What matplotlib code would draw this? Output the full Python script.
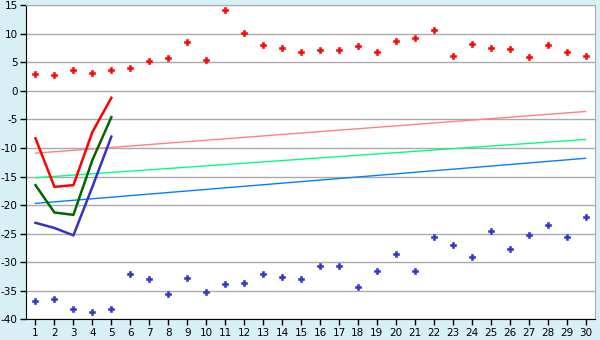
import numpy as np
import matplotlib
matplotlib.use('Agg')
import matplotlib.pyplot as plt

plt.rcParams['axes.unicode_minus'] = False

categories = list(range(1, 31))

red_points = [2.9, 2.8, 3.6, 3.1, 3.6, 4.1, 5.2, 5.7, 8.5, 5.5,
              14.1, 10.1, 8.0, 7.6, 6.9, 7.1, 7.1, 7.8, 6.9, 8.7,
              9.2, 10.6, 6.1, 8.3, 7.6, 7.3, 5.9, 8.0, 6.9, 6.2]
blue_points = [-36.8, -36.5, -38.2, -38.8, -38.2, -32.1, -33.0, -35.6, -32.8, -35.3,
               -33.9, -33.7, -32.1, -32.6, -33.0, -30.7, -30.7, -34.4, -31.6, -28.6,
               -31.6, -25.6, -26.9, -29.1, -24.6, -27.6, -25.3, -23.4, -25.6, -22.1]

line_cats = [1, 2, 3, 4, 5]
red_line = [-8.3, -16.8, -16.5, -7.2, -1.2]
green_line = [-16.5, -21.3, -21.7, -12.1, -4.6]
blue_line = [-23.1, -24.0, -25.3, -16.8, -8.0]

trend_cats = [1, 30]
pink_trend = [-10.9, -3.6]
mint_trend = [-15.2, -8.5]
sky_trend = [-19.7, -11.8]

bg = '#d9eff6'
fig = plt.figure(figsize=(6, 3.4), dpi=100, facecolor=bg)
ax = fig.add_axes([26 / 600, 20.7 / 340, 569 / 600, 314 / 340])
ax.set_facecolor('white')

ax.plot(trend_cats, pink_trend, color='#ff8080', lw=1)
ax.plot(trend_cats, mint_trend, color='#00ff80', lw=1)
ax.plot(trend_cats, sky_trend, color='#0080ff', lw=1)

ax.plot(line_cats, red_line, color='#ff0000', lw=1.8)
ax.plot(line_cats, green_line, color='#006600', lw=1.8)
ax.plot(line_cats, blue_line, color='#3333cc', lw=1.8)

ax.plot(categories, red_points, ls='none', marker='P', ms=5, color='#ff0000', mew=0.4)
ax.plot(categories, blue_points, ls='none', marker='P', ms=5, color='#3333cc', mew=0.4)

ax.set_xlim(0.5, 30.5)
ax.set_ylim(-40, 15)
ax.set_xticks(categories)
ax.set_yticks(np.arange(-40, 16, 5))
ax.yaxis.grid(True, color='#aaaaaa', lw=1)
ax.set_axisbelow(True)

ax.tick_params(axis='both', labelsize=7.5, direction='out', length=4, width=1, pad=2, color='black')
for s in ['top', 'right']:
    ax.spines[s].set_color('#aaaaaa')
for s in ['left', 'bottom']:
    ax.spines[s].set_color('black')

fig.savefig('out.png', dpi=100, facecolor=bg)
